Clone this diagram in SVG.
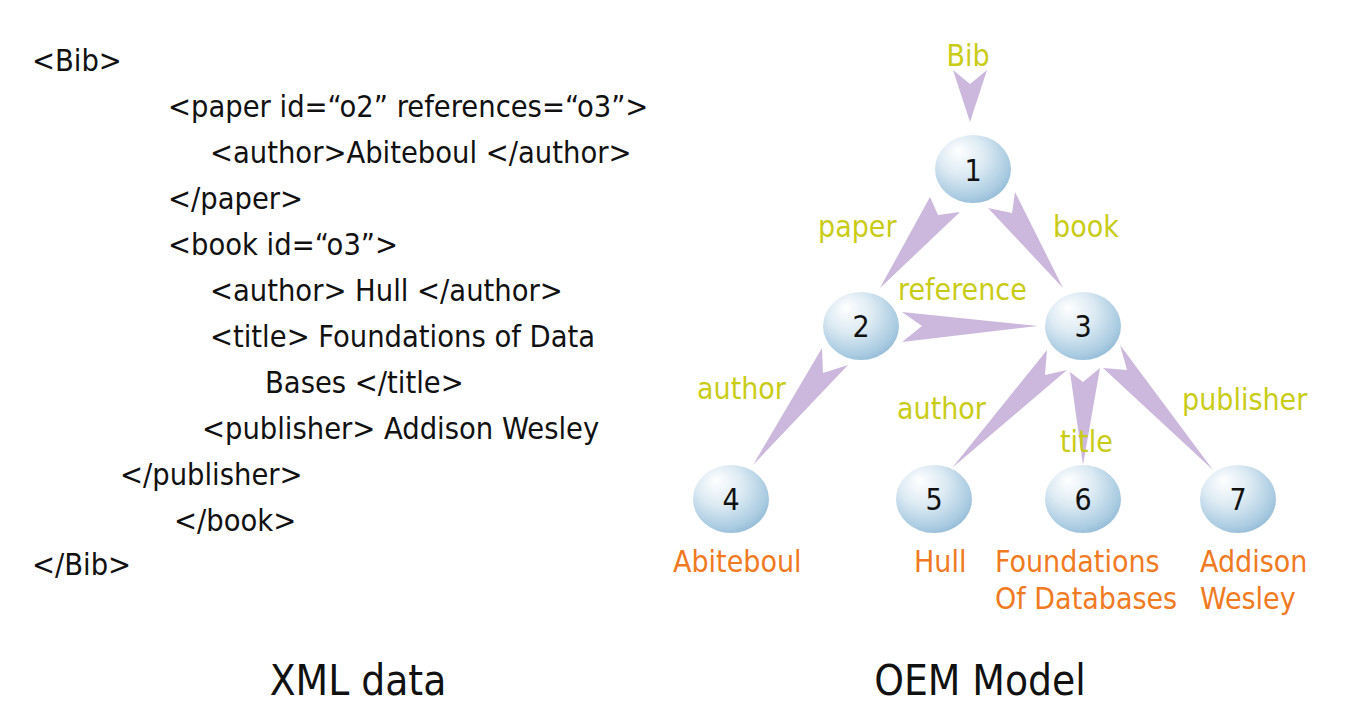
<svg xmlns="http://www.w3.org/2000/svg" width="1369" height="718" viewBox="0 0 1369 718">
<style>
.xml{font-family:"DejaVu Sans",sans-serif;font-stretch:condensed;font-size:30.5px;fill:#111}
.ttl{font-family:"DejaVu Sans",sans-serif;font-stretch:condensed;font-size:42px;fill:#111;text-anchor:middle}
.lbl{font-family:"DejaVu Sans",sans-serif;font-stretch:condensed;font-size:30px;fill:#c9cc16}
.val{font-family:"DejaVu Sans",sans-serif;font-stretch:condensed;font-size:30px;fill:#f07a22}
.num{font-family:"DejaVu Sans",sans-serif;font-stretch:condensed;font-size:30px;fill:#111;text-anchor:middle}
.edge{fill:#cbb8dc;stroke:none}
.ball{fill:url(#g)}
</style>
<defs>
<radialGradient id="g" cx="0.42" cy="0.38" r="0.68" fx="0.3" fy="0.22">
<stop offset="0" stop-color="#ffffff"/>
<stop offset="0.45" stop-color="#dceaf3"/>
<stop offset="0.85" stop-color="#a9cbe1"/>
<stop offset="1" stop-color="#8fb7d4"/>
</radialGradient>
</defs>
<rect width="1369" height="718" fill="#fff"/>
<g id="xml-text">
<text class="xml" x="32" y="71">&lt;Bib&gt;</text>
<text class="xml" x="168" y="117">&lt;paper id=“o2” references=“o3”&gt;</text>
<text class="xml" x="210" y="163">&lt;author&gt;Abiteboul &lt;/author&gt;</text>
<text class="xml" x="168" y="209">&lt;/paper&gt;</text>
<text class="xml" x="168" y="255">&lt;book id=“o3”&gt;</text>
<text class="xml" x="210" y="301">&lt;author&gt; Hull &lt;/author&gt;</text>
<text class="xml" x="210" y="347">&lt;title&gt; Foundations of Data</text>
<text class="xml" x="265" y="393">Bases &lt;/title&gt;</text>
<text class="xml" x="202" y="439">&lt;publisher&gt; Addison Wesley</text>
<text class="xml" x="120" y="485">&lt;/publisher&gt;</text>
<text class="xml" x="174" y="531">&lt;/book&gt;</text>
<text class="xml" x="32" y="575">&lt;/Bib&gt;</text>
</g>
<g id="connectors">
<polygon class="edge" points="953,70 970,84 987,70 970,122"/>
<polygon class="edge" points="930,197 938,215 960,212 880,288"/>
<polygon class="edge" points="988,208 1012,213 1015,192 1063,288"/>
<polygon class="edge" points="902,312 922,326 902,342 1038,326"/>
<polygon class="edge" points="822,348 823,373 848,365 753,465"/>
<polygon class="edge" points="1047,350 1045,375 1067,370 952,468"/>
<polygon class="edge" points="1070,372 1083,382 1100,368 1083,465"/>
<polygon class="edge" points="1103,368 1127,370 1120,345 1213,470"/>
</g>
<g id="edge-labels">
<text class="lbl" x="968" y="66" text-anchor="middle">Bib</text>
<text class="lbl" x="818" y="237">paper</text>
<text class="lbl" x="1053" y="237">book</text>
<text class="lbl" x="898" y="300">reference</text>
<text class="lbl" x="697" y="399">author</text>
<text class="lbl" x="897" y="419">author</text>
<text class="lbl" x="1060" y="452">title</text>
<text class="lbl" x="1182" y="410">publisher</text>
</g>
<g id="node1"><ellipse class="ball" cx="973" cy="169" rx="38" ry="34"/><text class="num" x="973" y="181">1</text></g>
<g id="node2"><ellipse class="ball" cx="861" cy="326" rx="38" ry="34"/><text class="num" x="861" y="337">2</text></g>
<g id="node3"><ellipse class="ball" cx="1083" cy="326" rx="38" ry="34"/><text class="num" x="1083" y="337">3</text></g>
<g id="node4"><ellipse class="ball" cx="731" cy="499" rx="38" ry="34"/><text class="num" x="731" y="510">4</text></g>
<g id="node5"><ellipse class="ball" cx="934" cy="499" rx="38" ry="34"/><text class="num" x="934" y="510">5</text></g>
<g id="node6"><ellipse class="ball" cx="1083" cy="499" rx="38" ry="34"/><text class="num" x="1083" y="510">6</text></g>
<g id="node7"><ellipse class="ball" cx="1238" cy="499" rx="38" ry="34"/><text class="num" x="1238" y="510">7</text></g>
<g id="values">
<text class="val" x="673" y="572">Abiteboul</text>
<text class="val" x="914" y="572">Hull</text>
<text class="val" x="995" y="572">Foundations</text>
<text class="val" x="995" y="609">Of Databases</text>
<text class="val" x="1200" y="572">Addison</text>
<text class="val" x="1200" y="609">Wesley</text>
</g>
<g id="titles">
<text class="ttl" x="358" y="695">XML data</text>
<text class="ttl" x="980" y="695">OEM Model</text>
</g>
</svg>
